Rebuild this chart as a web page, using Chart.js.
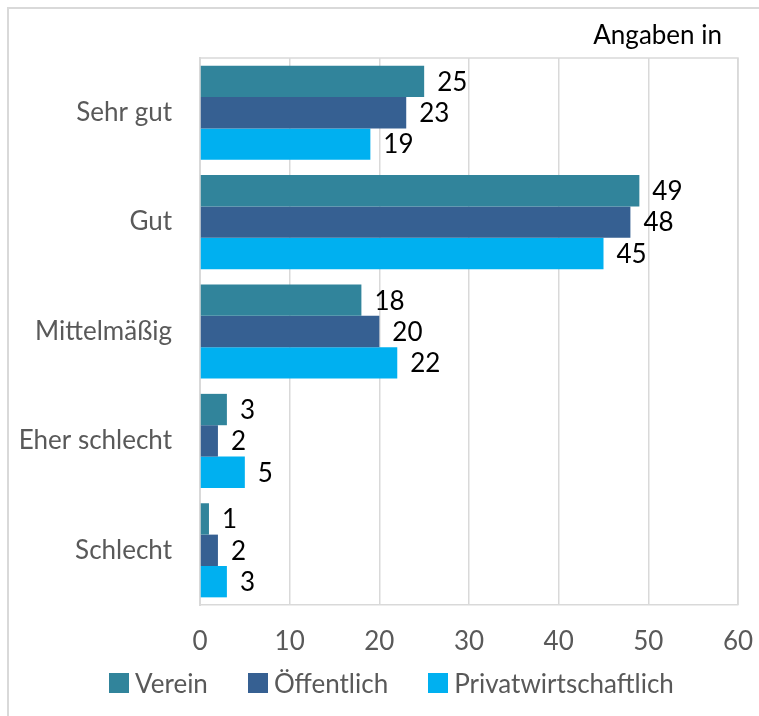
<!DOCTYPE html>
<html lang="de">
<head>
<meta charset="utf-8">
<title>Bewertung nach Träger</title>
<script src="https://cdn.jsdelivr.net/npm/chart.js@4/dist/chart.umd.min.js"></script>
<style>
    html, body { margin: 0; padding: 0; background: #ffffff; overflow: hidden; }
    #wrap { position: relative; width: 759px; height: 716px; }
    #frame {
        position: absolute; left: 7px; top: 7px; width: 780px; height: 740px;
        border: 2px solid #d9d9d9; box-sizing: border-box; pointer-events: none;
    }
    canvas { position: absolute; left: 0; top: 0; }
    #legend {
        position: absolute; left: 0; top: 668px; width: 759px; padding-left: 24px;
        box-sizing: border-box; display: flex; justify-content: center; gap: 40px;
        font: 26px Lato, "Open Sans", sans-serif; line-height: 30px; color: #595959;
    }
    #legend .item { display: flex; align-items: center; white-space: nowrap; }
    #legend .box { width: 20px; height: 20px; margin-right: 6px; }
</style>
</head>
<body>
<div id="wrap">
    <div id="frame"></div>
    <canvas id="ratingChart" width="759" height="716"></canvas>
    <div id="legend"></div>
</div>
<script>
const categories = ['Sehr gut', 'Gut', 'Mittelmäßig', 'Eher schlecht', 'Schlecht'];
const seriesNames = ['Verein', 'Öffentlich', 'Privatwirtschaftlich'];
const verein = [25, 49, 18, 3, 1];
const oeffentlich = [23, 48, 20, 2, 2];
const privat = [19, 45, 22, 5, 3];
const xTicks = [0, 10, 20, 30, 40, 50, 60];
const unitNote = 'Angaben in';

const FONT = 'Lato, "Open Sans", sans-serif';
const GRID = '#d9d9d9';
const COLORS = ['#31849b', '#366092', '#00b0f0'];

// value labels next to each bar end, plus the unit note above the plot
const barLabels = {
    id: 'barLabels',
    afterDatasetsDraw(chart) {
        const ctx = chart.ctx;
        ctx.save();
        ctx.font = '26px ' + FONT;
        ctx.fillStyle = '#000000';
        ctx.textBaseline = 'middle';
        ctx.textAlign = 'left';
        chart.data.datasets.forEach((ds, i) => {
            const meta = chart.getDatasetMeta(i);
            meta.data.forEach((bar, j) => {
                ctx.fillText(String(ds.data[j]), bar.x + 13, bar.y + 1);
            });
        });
        ctx.textAlign = 'right';
        ctx.textBaseline = 'alphabetic';
        ctx.fillText(unitNote, chart.chartArea.right - 16, chart.chartArea.top - 14);
        ctx.restore();
    }
};

// closes the plot box along its top and right edges
const plotBox = {
    id: 'plotBox',
    beforeDatasetsDraw(chart) {
        const a = chart.chartArea;
        const c = chart.ctx;
        c.save();
        c.strokeStyle = GRID;
        c.lineWidth = 1.5;
        c.beginPath();
        c.moveTo(a.left, a.top);
        c.lineTo(a.right, a.top);
        c.lineTo(a.right, a.bottom);
        c.stroke();
        c.restore();
    }
};

const ctx = document.getElementById('ratingChart').getContext('2d');
const chart = new Chart(ctx, {
    type: 'bar',
    data: {
        labels: categories,
        datasets: [
            { label: seriesNames[0], data: verein, backgroundColor: COLORS[0] },
            { label: seriesNames[1], data: oeffentlich, backgroundColor: COLORS[1] },
            { label: seriesNames[2], data: privat, backgroundColor: COLORS[2] }
        ]
    },
    options: {
        indexAxis: 'y',
        responsive: false,
        animation: false,
        devicePixelRatio: 1,
        datasets: {
            bar: { categoryPercentage: 0.86, barPercentage: 1 }
        },
        layout: {
            padding: { top: 58, right: 21, bottom: 51, left: 14 }
        },
        plugins: {
            legend: { display: false },
            title: { display: false },
            tooltip: { enabled: false }
        },
        scales: {
            x: {
                min: 0,
                max: 60,
                afterBuildTicks(axis) {
                    axis.ticks = xTicks.map(v => ({ value: v }));
                },
                afterFit(axis) {
                    axis.height = 60;
                },
                // invisible tick marks keep the labels away from the axis line
                grid: { color: GRID, lineWidth: 1.5, drawTicks: true, tickLength: 21, tickColor: 'rgba(0,0,0,0)' },
                border: { color: GRID, width: 1.5 },
                ticks: {
                    padding: 0,
                    color: '#595959',
                    font: { family: FONT, size: 26 }
                }
            },
            y: {
                afterFit(axis) {
                    axis.width = 186;
                },
                grid: { display: false, drawTicks: false },
                border: { color: GRID, width: 2 },
                ticks: {
                    padding: 28,
                    color: '#595959',
                    font: { family: FONT, size: 26 }
                }
            }
        }
    },
    plugins: [barLabels, plotBox]
});

// legend row under the axis, built from the datasets
const legendEl = document.getElementById('legend');
chart.data.datasets.forEach(ds => {
    const item = document.createElement('span');
    item.className = 'item';
    const box = document.createElement('span');
    box.className = 'box';
    box.style.background = ds.backgroundColor;
    item.appendChild(box);
    item.appendChild(document.createTextNode(ds.label));
    legendEl.appendChild(item);
});
</script>
</body>
</html>
